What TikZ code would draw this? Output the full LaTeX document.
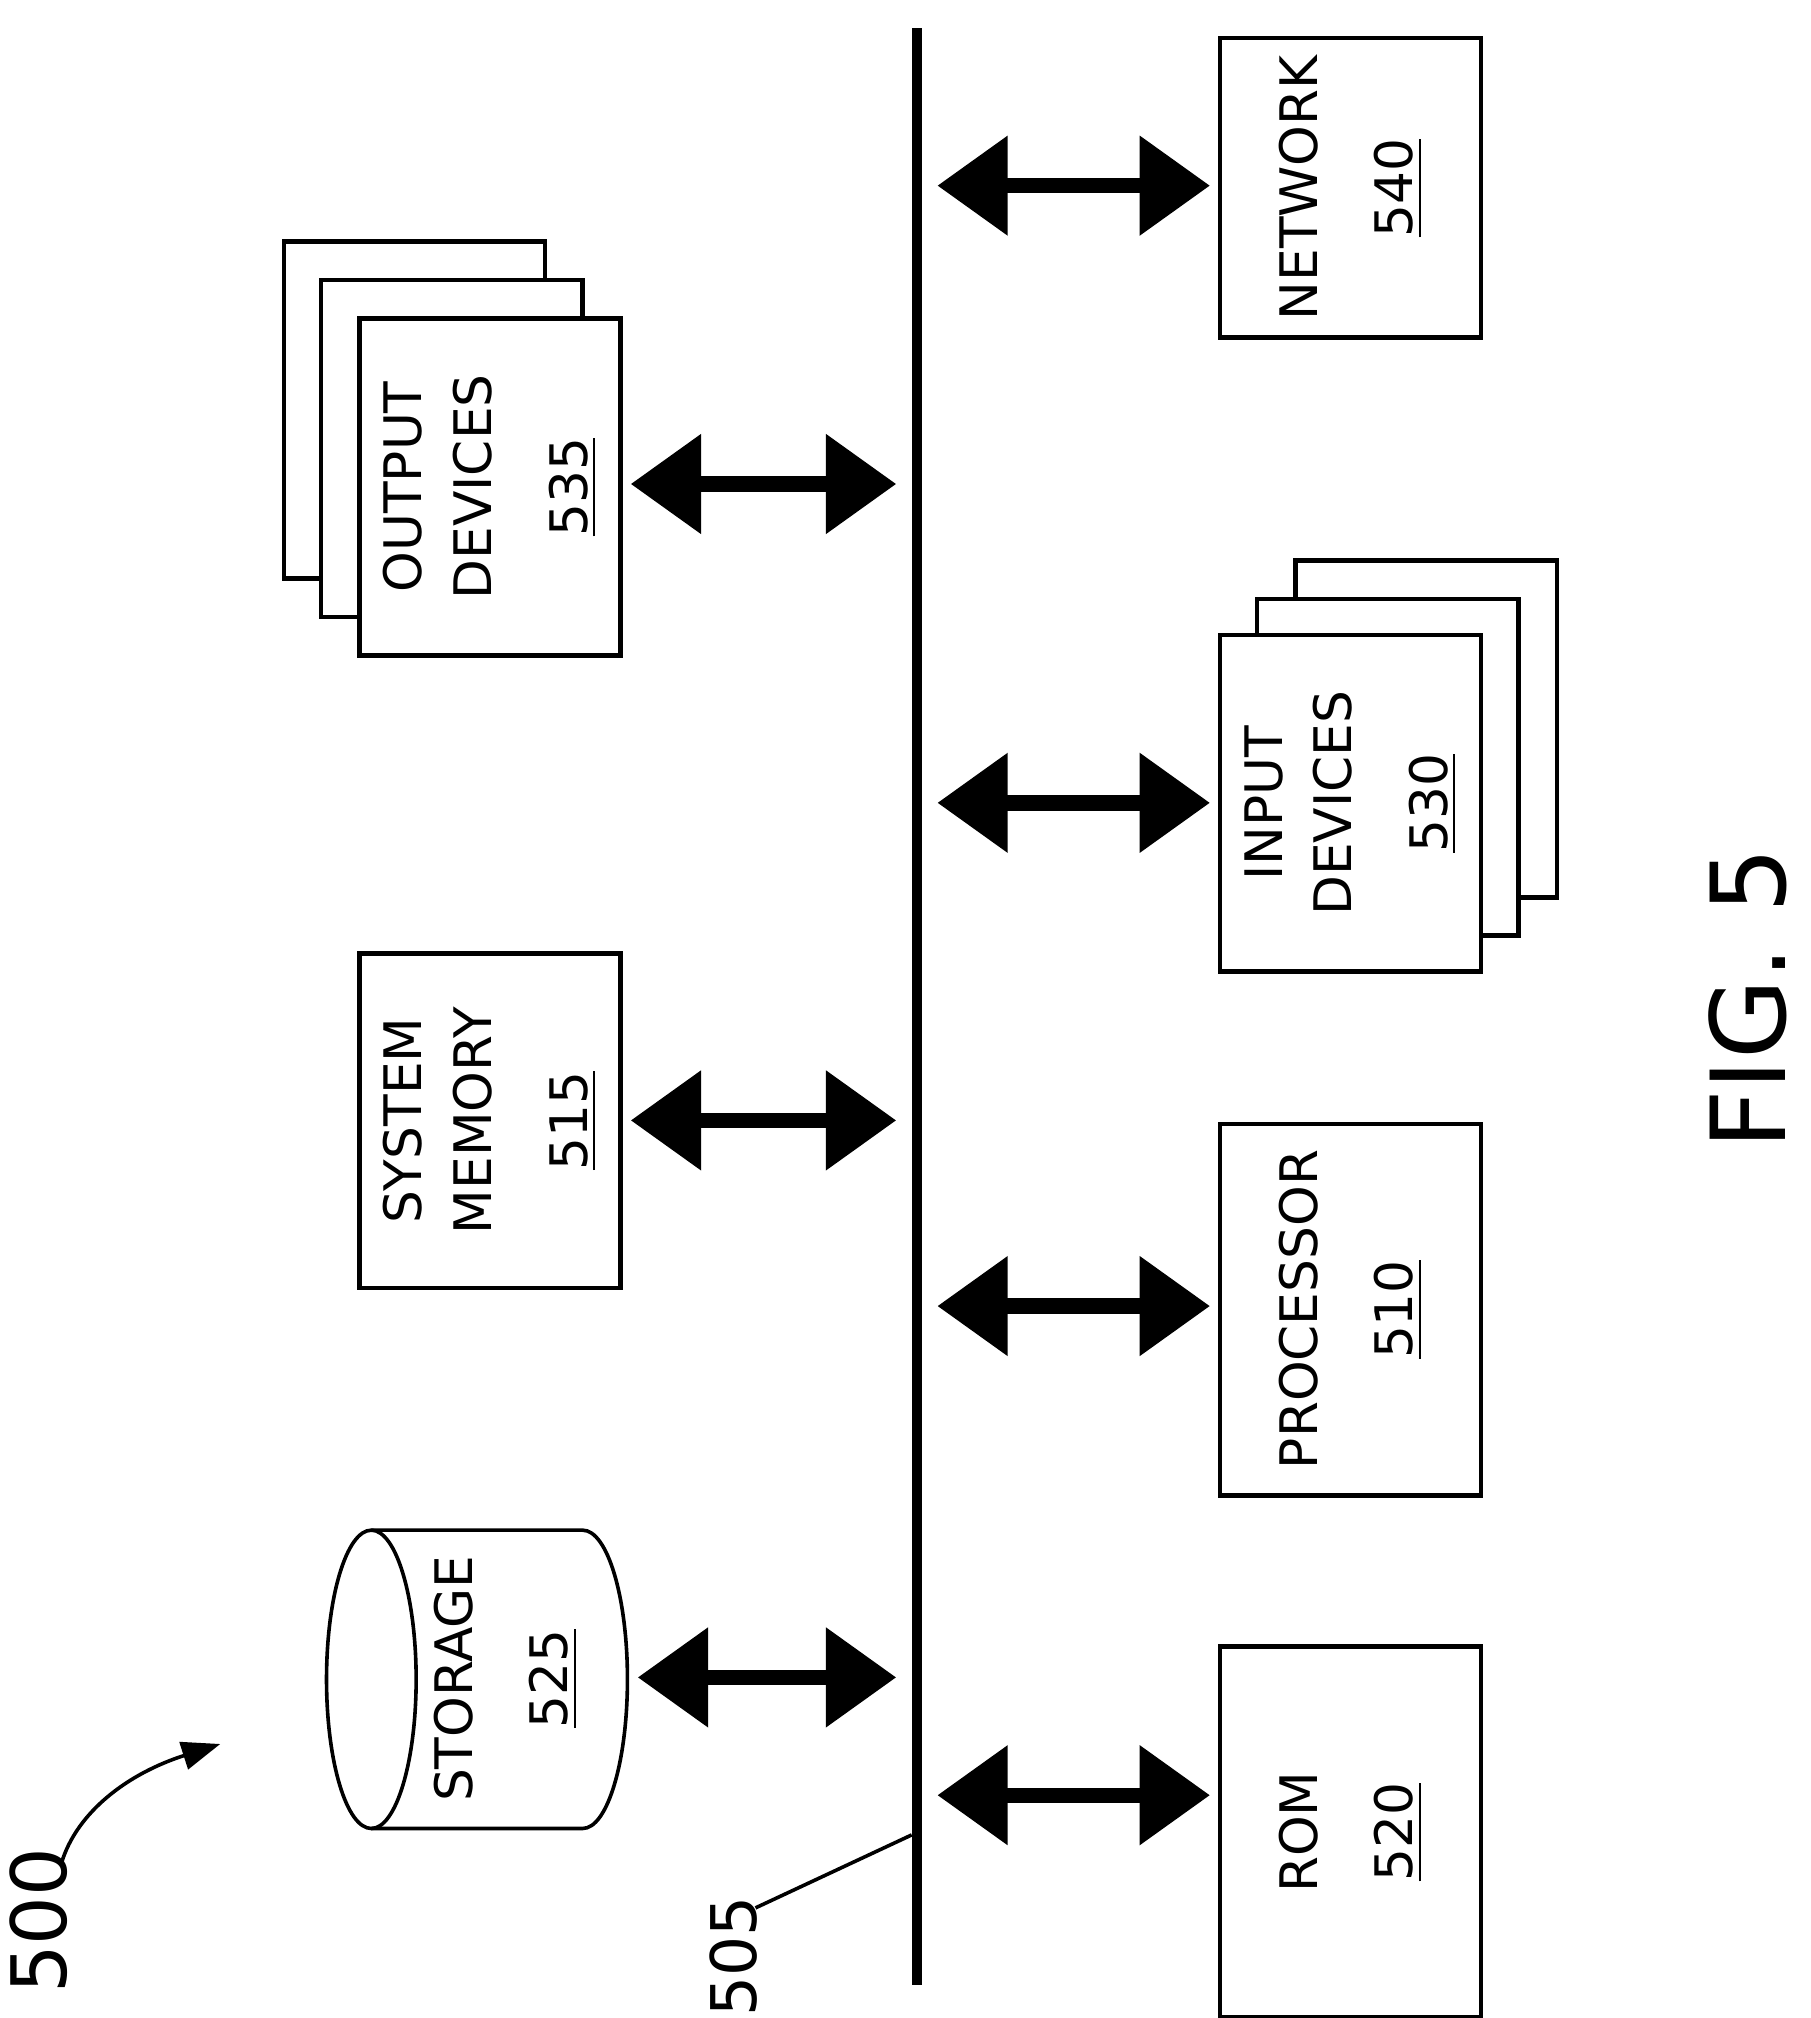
\documentclass[tikz,border=0pt]{standalone}
\usepackage{fontspec}
\setmainfont{DejaVu Sans}
\usetikzlibrary{arrows.meta,shapes.geometric}
\begin{document}
\begin{tikzpicture}[x=0.1mm,y=-0.1mm,
  box/.style={draw,line width=1pt,fill=white,minimum width=20.4mm,anchor=north west,inner sep=0},
  lbl/.style={rotate=90,align=center,font=\fontsize{11.5}{15.5}\selectfont},
  dbl/.style={line width=1.2mm,{Triangle[length=5.5mm,width=7.5mm]}-{Triangle[length=5.5mm,width=7.5mm]},shorten <=1mm,shorten >=0.6mm},
  bus/.style={line width=0.8mm}]
\useasboundingbox (0,0) rectangle (1414,1576);
% bus
\coordinate (bt) at (716,22); \coordinate (bb) at (716,1550);
\draw[bus] (bt) -- (bb);
% right boxes
\node[box,minimum height=23.4mm] (net) at (951,28) {};
\node[lbl] at (net.center) {NETWORK\\[2mm]\underline{540}};
\node[box,minimum height=26.3mm] (in3) at (1010,436) {};
\node[box,minimum height=26.3mm] (in2) at (980,466) {};
\node[box,minimum height=26.3mm] (in) at (951,494) {};
\node[lbl] at (in.center) {INPUT\\DEVICES\\[2mm]\underline{530}};
\node[box,minimum height=29mm] (proc) at (951,876) {};
\node[lbl] at (proc.center) {PROCESSOR\\[2mm]\underline{510}};
\node[box,minimum height=29mm] (rom) at (951,1284) {};
\node[lbl] at (rom.center) {ROM\\[2mm]\underline{520}};
% left boxes
\node[box,minimum height=26.3mm] (out3) at (220,187) {};
\node[box,minimum height=26.3mm] (out2) at (249,217) {};
\node[box,minimum height=26.3mm] (out) at (279,247) {};
\node[lbl] at (out.center) {OUTPUT\\DEVICES\\[2mm]\underline{535}};
\node[box,minimum height=26.1mm] (mem) at (279,743) {};
\node[lbl] at (mem.center) {SYSTEM\\MEMORY\\[2mm]\underline{515}};
% storage
\draw[line width=0.8pt] (290,1195) -- (455,1195) arc[start angle=90,end angle=-90,x radius=3.5mm,y radius=11.65mm] -- (290,1428);
\draw[line width=0.8pt] (290,1311.5) ellipse[x radius=3.5mm,y radius=11.65mm];
\node[lbl] (sto) at (395,1311) {STORAGE\\[2mm]\underline{525}};
% bus taps
\foreach \n/\y in {a/145,b/627,c/1020,d/1402}{\coordinate (r\n) at (722,\y);}
\foreach \n/\y in {e/378,f/875,g/1310}{\coordinate (l\n) at (710,\y);}
\draw[dbl] (ra) -- (net.west|-ra);
\draw[dbl] (rb) -- (in.west|-rb);
\draw[dbl] (rc) -- (proc.west|-rc);
\draw[dbl] (rd) -- (rom.west|-rd);
\draw[dbl] (le) -- (out.east|-le);
\draw[dbl] (lf) -- (mem.east|-lf);
\draw[dbl] (lg) -- (492,1310);
% reference labels
\node[rotate=90,font=\fontsize{17}{20}\selectfont] (n500) at (30,1500) {500};
\coordinate (p500) at (172,1362);
\draw[line width=0.8pt,-{Triangle[length=3mm,width=2.2mm]}] (48,1455) .. controls (60,1415) and (100,1385) .. (p500);
\node[rotate=90,font=\fontsize{14}{16}\selectfont] (n505) at (573,1528) {505};
\coordinate (p505) at (712,1433);
\draw[line width=0.8pt] (590,1490) -- (p505);
\node[rotate=90,font=\fontsize{23}{26}\selectfont] (fig) at (1365,780) {FIG. 5};
\end{tikzpicture}
\end{document}
